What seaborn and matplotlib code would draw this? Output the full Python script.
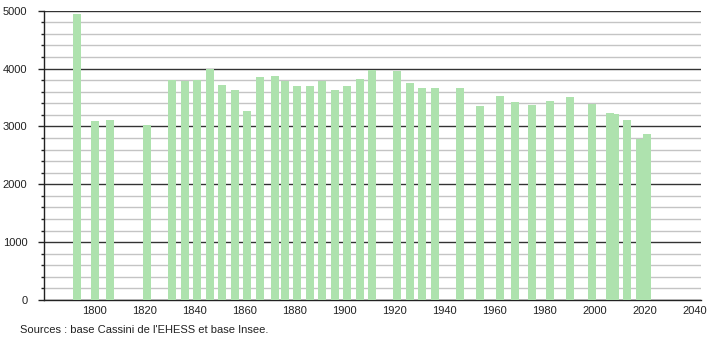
import matplotlib
matplotlib.use("Agg")
import matplotlib.pyplot as plt
from matplotlib.ticker import MultipleLocator
import seaborn as sns
import pandas as pd

years = [1793, 1800, 1806, 1821, 1831, 1836, 1841, 1846, 1851, 1856, 1861, 1866,
         1872, 1876, 1881, 1886, 1891, 1896, 1901, 1906, 1911, 1921, 1926, 1931,
         1936, 1946, 1954, 1962, 1968, 1975, 1982, 1990, 1999, 2006, 2008, 2013,
         2018, 2021]
population = [4940, 3086, 3109, 3017, 3810, 3787, 3805, 4000, 3724, 3638, 3259, 3862,
              3868, 3787, 3707, 3707, 3793, 3638, 3690, 3828, 3983, 3966, 3759, 3672,
              3672, 3672, 3345, 3534, 3414, 3362, 3431, 3517, 3391, 3224, 3220, 3103,
              2787, 2862]
x_ticks = list(range(1800, 2041, 20))
y_ticks = list(range(0, 5001, 1000))
source_text = "Sources : base Cassini de l'EHESS et base Insee."

df = pd.DataFrame({"year": years, "pop": population})

sns.set_style("white")
plt.rcParams["font.family"] = ["Liberation Sans", "DejaVu Sans"]

fig = plt.figure(figsize=(7.1, 3.4), dpi=100)
ax = fig.add_axes([44 / 710, 1 - 300 / 340, (701 - 44) / 710, (300 - 10.7) / 340])

sns.barplot(data=df, x="year", y="pop", native_scale=True, width=1.6,
            color="#aee2ae", saturation=1, ax=ax, zorder=3, linewidth=0,
            edgecolor="none")

ax.set_xlim(1779.7, 2042.5)
ax.set_ylim(0, 5000)
ax.set_xticks(x_ticks)
ax.set_xticklabels([str(t) for t in x_ticks])
ax.set_yticks(y_ticks)
ax.set_yticklabels([str(t) for t in y_ticks])
ax.yaxis.set_minor_locator(MultipleLocator(200))

ax.set_axisbelow(True)
ax.grid(True, axis="y", which="minor", color="#c4c4c4", linewidth=1.0, zorder=0)
ax.grid(True, axis="y", which="major", color="#333333", linewidth=1.0, zorder=1)
ax.grid(False, axis="x")

for s in ["top", "right"]:
    ax.spines[s].set_visible(False)
ax.spines["left"].set_color("#222222")
ax.spines["bottom"].set_color("#222222")
ax.spines["left"].set_linewidth(1.0)
ax.spines["bottom"].set_linewidth(1.0)

ax.tick_params(axis="x", which="both", length=0, pad=4, labelsize=8, colors="#222222")
ax.tick_params(axis="y", which="major", length=4, width=1, pad=8, labelsize=8,
               colors="#222222", direction="out", left=True)
ax.tick_params(axis="y", which="minor", length=2, width=1, colors="#222222",
               direction="out", left=True)

ax.set_xlabel("")
ax.set_ylabel("")

fig.text(20 / 710, 1 - 330 / 340, source_text, fontsize=8, color="#222222",
         ha="left", va="center")

fig.savefig("out.png", dpi=100, facecolor="white")
